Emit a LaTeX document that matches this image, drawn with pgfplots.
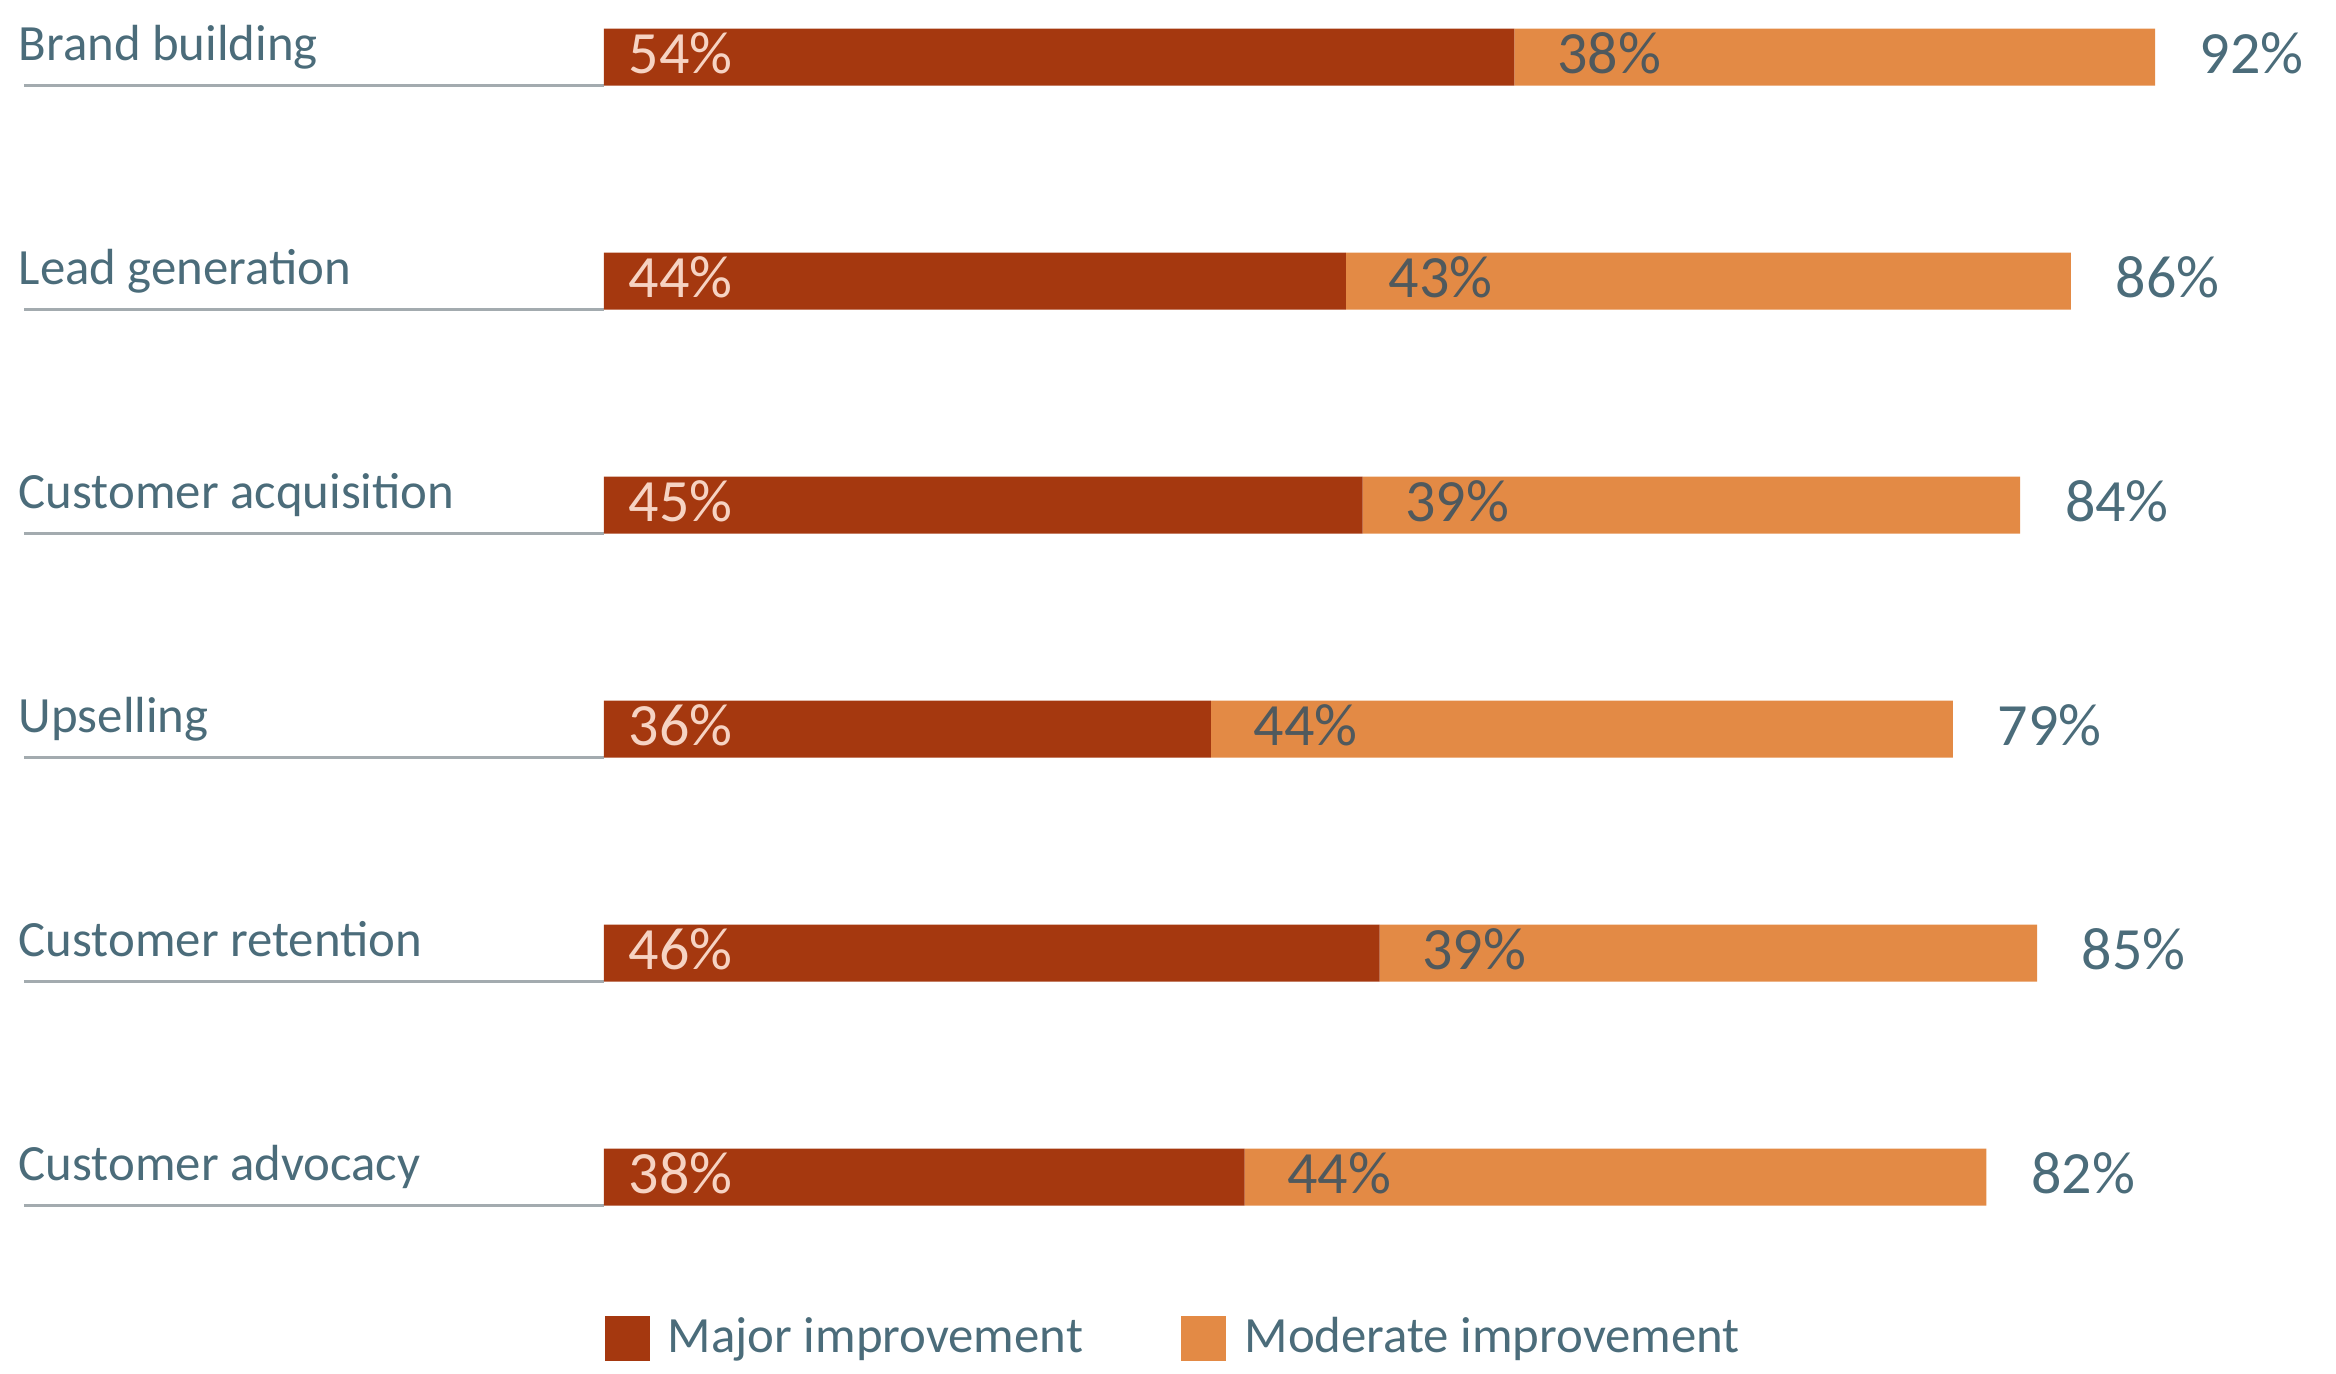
\documentclass[border=0pt]{standalone}
\usepackage{pgfplots}
\pgfplotsset{compat=1.18}
\usepackage{pgfplotstable}
\usepackage{fontspec}
\setmainfont{Carlito}
\definecolor{major}{HTML}{A5380F}
\definecolor{moderate}{HTML}{E38A45}
\definecolor{txt}{HTML}{4B6C7A}
\definecolor{inlight}{HTML}{F6D3C3}
\definecolor{indark}{HTML}{50595D}
\definecolor{rulec}{HTML}{A3ABAF}

\pgfplotstableread{
row major moderate total
0 54 38 92
1 44 43 86
2 45 39 84
3 36 44 79
4 46 39 85
5 38 44 82
}\data

\newcommand{\catfont}{\fontsize{12.7}{15}\selectfont}
\newcommand{\pctfont}{\fontsize{15}{17}\selectfont}

\pgfplotsset{base/.style={
  width=584pt, height=343.25pt, scale only axis,
  xmin=-35.82, xmax=102.73, ymin=-0.2545, ymax=5.875, y dir=reverse,
  axis lines=none, clip=false, at={(0,0)}, anchor=south west}}

\begin{document}
\begin{tikzpicture}
\begin{axis}[base, name=ax, xbar stacked, bar width=14.25pt,
  legend style={at={(axis cs:0,5.72)}, anchor=west, draw=none, fill=none,
    legend columns=2, font=\catfont, text=txt, inner sep=0pt,
    /tikz/every odd column/.append style={column sep=2.6pt},
    /tikz/every even column/.append style={column sep=22.6pt}},
  legend image code/.code={\fill[#1] (0pt,-5.6pt) rectangle (11.2pt,5.6pt);},
  ]
\addplot[fill=major, draw=none] table[x=major, y=row]{\data};
\addlegendentry{Major improvement}
\addplot[fill=moderate, draw=none] table[x=moderate, y=row]{\data};
\addlegendentry{Moderate improvement}
\foreach \r/\name in {0/Brand building, 1/Lead generation, 2/Customer acquisition, 3/Upselling, 4/Customer retention, 5/Customer advocacy}{
  \edef\temp{\noexpand\draw[rulec, line width=0.7pt] (axis cs:-34.4,\r+0.127) -- (axis cs:0,\r+0.127);
  \noexpand\node[anchor=base west, inner sep=0pt, text=txt, font=\noexpand\catfont] at (axis cs:-34.75,\r+0.015) {\name};}
  \temp
}
\end{axis}
\begin{axis}[base]
\addplot[draw=none, mark=none, nodes near coords={\pgfplotspointmeta\%}, point meta=explicit symbolic,
  nodes near coords style={anchor=west, inner sep=0pt, xshift=6pt, yshift=1pt, text=inlight, font=\pctfont}]
  table[x expr=0, y=row, meta=major]{\data};
\addplot[draw=none, mark=none, nodes near coords={\pgfplotspointmeta\%}, point meta=explicit symbolic,
  nodes near coords style={anchor=west, inner sep=0pt, xshift=10.5pt, yshift=1pt, text=indark, font=\pctfont}]
  table[x=major, y=row, meta=moderate]{\data};
\addplot[draw=none, mark=none, nodes near coords={\pgfplotspointmeta\%}, point meta=explicit symbolic,
  nodes near coords style={anchor=west, inner sep=0pt, xshift=11pt, yshift=1pt, text=txt, font=\pctfont}]
  table[x expr=\thisrow{major}+\thisrow{moderate}, y=row, meta=total]{\data};
\end{axis}
\pgfresetboundingbox
\useasboundingbox (ax.south west) rectangle (ax.north east);
\end{tikzpicture}
\end{document}
